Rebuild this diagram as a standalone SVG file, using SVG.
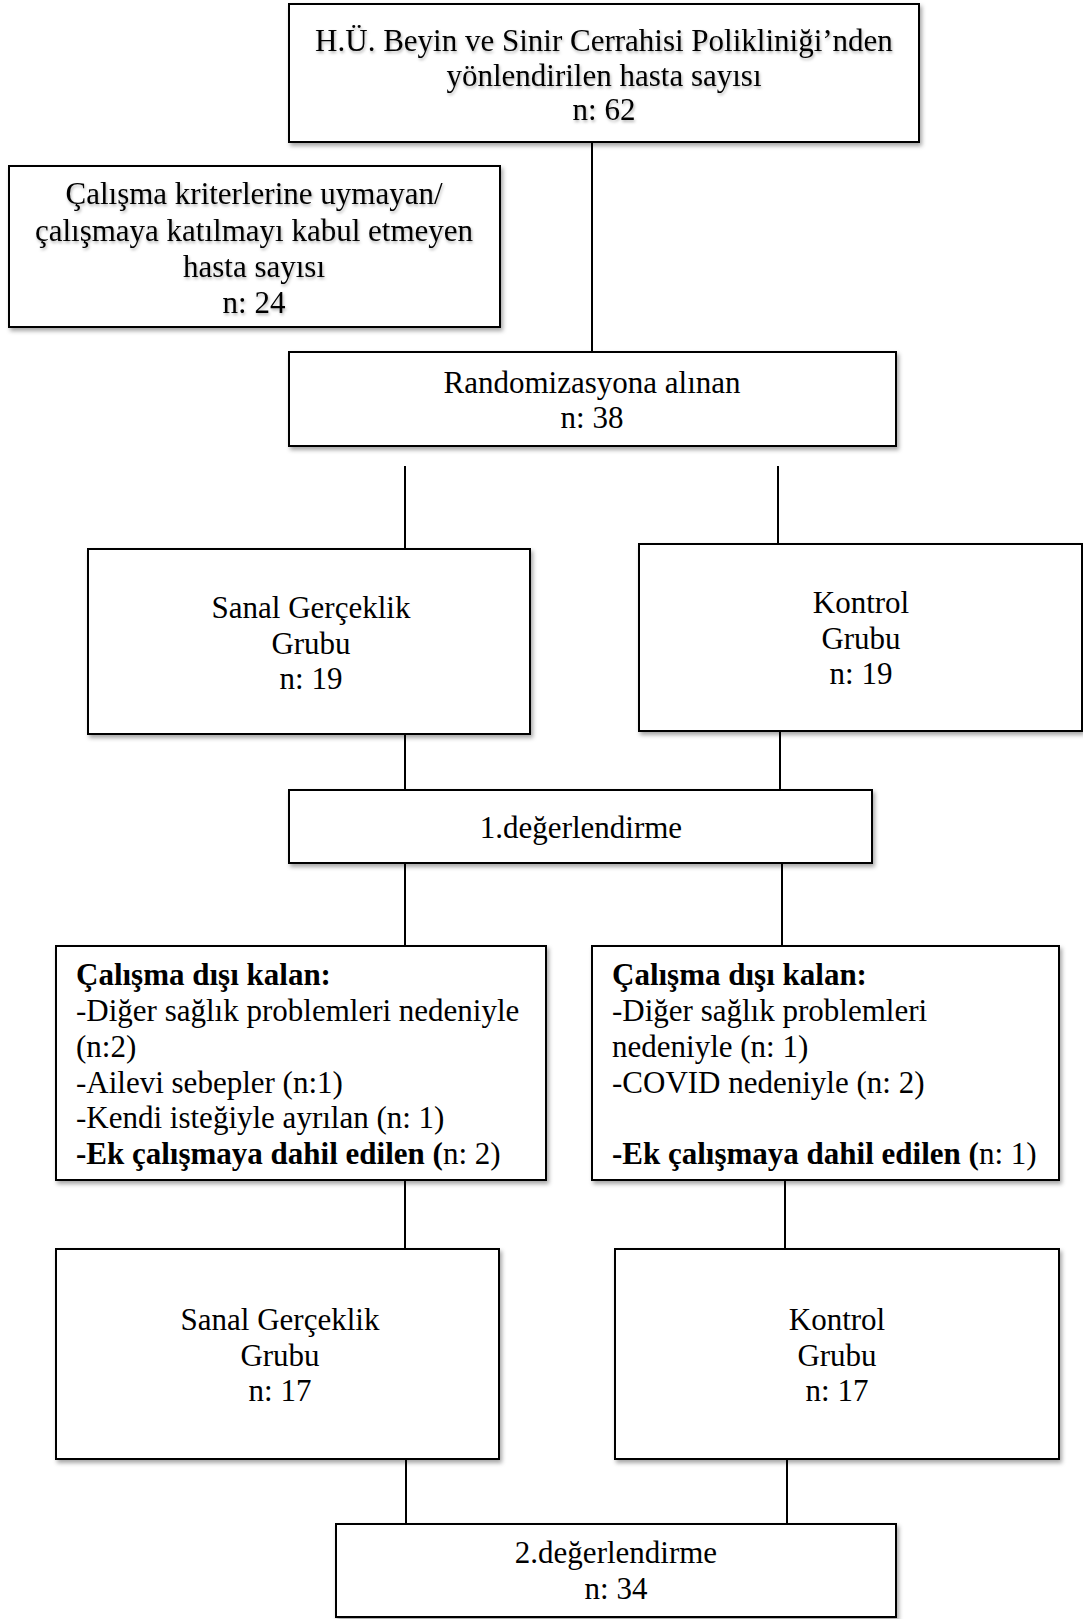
<svg xmlns="http://www.w3.org/2000/svg" width="1083" height="1619" viewBox="0 0 1083 1619">
<defs>
<filter id="sh" x="-5%" y="-5%" width="115%" height="120%">
<feDropShadow dx="2" dy="3" stdDeviation="2" flood-color="#000" flood-opacity="0.35"/>
</filter>
<filter id="tsh" x="-5%" y="-20%" width="110%" height="160%">
<feDropShadow dx="1" dy="2" stdDeviation="1.5" flood-color="#000" flood-opacity="0.3"/>
</filter>
</defs>
<style>
rect.box{fill:#fff;stroke:#000;stroke-width:2;filter:url(#sh)}
text{font-family:"Liberation Serif","Times New Roman",serif;font-size:31px;fill:#000}
.c{text-anchor:middle}
.b{font-weight:bold}
.ts{filter:url(#tsh)}
#connectors line{stroke:#000;stroke-width:2}
</style>
<rect width="1083" height="1619" fill="#fff"/>
<g id="connectors">
<line x1="592" y1="142" x2="592" y2="352"/>
<line x1="405" y1="466" x2="405" y2="549"/>
<line x1="778" y1="466" x2="778" y2="544"/>
<line x1="405" y1="734" x2="405" y2="790"/>
<line x1="780" y1="731" x2="780" y2="790"/>
<line x1="405" y1="863" x2="405" y2="946"/>
<line x1="782" y1="863" x2="782" y2="946"/>
<line x1="405" y1="1180" x2="405" y2="1249"/>
<line x1="785" y1="1180" x2="785" y2="1249"/>
<line x1="406" y1="1459" x2="406" y2="1539"/>
<line x1="787" y1="1459" x2="787" y2="1524"/>
</g>
<g id="referred">
<rect class="box" x="289" y="4" width="630" height="138"/>
<g class="ts">
<text class="c" x="604" y="51">H.Ü. Beyin ve Sinir Cerrahisi Polikliniği’nden</text>
<text class="c" x="604" y="86">yönlendirilen hasta sayısı</text>
<text class="c" x="604" y="120">n: 62</text>
</g>
</g>
<g id="excluded">
<rect class="box" x="9" y="166" width="491" height="161"/>
<g class="ts">
<text class="c" x="254" y="204">Çalışma kriterlerine uymayan/</text>
<text class="c" x="254" y="241">çalışmaya katılmayı kabul etmeyen</text>
<text class="c" x="254" y="277">hasta sayısı</text>
<text class="c" x="254" y="313">n: 24</text>
</g>
</g>
<g id="randomized">
<rect class="box" x="289" y="352" width="607" height="94"/>
<text class="c" x="592" y="393">Randomizasyona alınan</text>
<text class="c" x="592" y="428">n: 38</text>
</g>
<g id="vr-group-1">
<rect class="box" x="88" y="549" width="442" height="185"/>
<text class="c" x="311" y="618">Sanal Gerçeklik</text>
<text class="c" x="311" y="654">Grubu</text>
<text class="c" x="311" y="689">n: 19</text>
</g>
<g id="control-group-1">
<rect class="box" x="639" y="544" width="443" height="187"/>
<text class="c" x="861" y="613">Kontrol</text>
<text class="c" x="861" y="649">Grubu</text>
<text class="c" x="861" y="684">n: 19</text>
</g>
<g id="eval-1">
<rect class="box" x="289" y="790" width="583" height="73"/>
<text class="c" x="581" y="838">1.değerlendirme</text>
</g>
<g id="dropout-vr">
<rect class="box" x="56" y="946" width="490" height="234"/>
<text x="76" y="985" class="b">Çalışma dışı kalan:</text>
<text x="76" y="1021">-Diğer sağlık problemleri nedeniyle</text>
<text x="76" y="1057">(n:2)</text>
<text x="76" y="1093">-Ailevi sebepler (n:1)</text>
<text x="76" y="1128">-Kendi isteğiyle ayrılan (n: 1)</text>
<text x="76" y="1164"><tspan class="b">-Ek çalışmaya dahil edilen (</tspan>n: 2)</text>
</g>
<g id="dropout-control">
<rect class="box" x="592" y="946" width="467" height="234"/>
<text x="612" y="985" class="b">Çalışma dışı kalan:</text>
<text x="612" y="1021">-Diğer sağlık problemleri</text>
<text x="612" y="1057">nedeniyle (n: 1)</text>
<text x="612" y="1093">-COVID nedeniyle (n: 2)</text>
<text x="612" y="1164"><tspan class="b">-Ek çalışmaya dahil edilen (</tspan>n: 1)</text>
</g>
<g id="vr-group-2">
<rect class="box" x="56" y="1249" width="443" height="210"/>
<text class="c" x="280" y="1330">Sanal Gerçeklik</text>
<text class="c" x="280" y="1366">Grubu</text>
<text class="c" x="280" y="1401">n: 17</text>
</g>
<g id="control-group-2">
<rect class="box" x="615" y="1249" width="444" height="210"/>
<text class="c" x="837" y="1330">Kontrol</text>
<text class="c" x="837" y="1366">Grubu</text>
<text class="c" x="837" y="1401">n: 17</text>
</g>
<g id="eval-2">
<rect class="box" x="336" y="1524" width="560" height="93"/>
<text class="c" x="616" y="1563">2.değerlendirme</text>
<text class="c" x="616" y="1599">n: 34</text>
</g>
</svg>
